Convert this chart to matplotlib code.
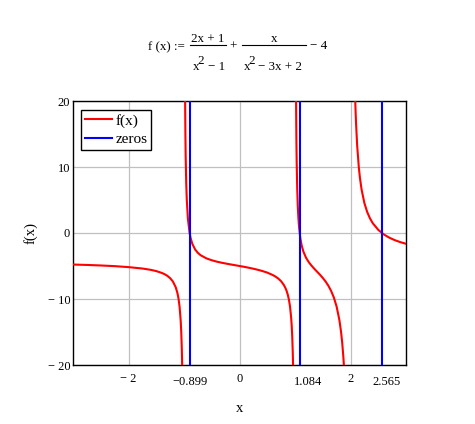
"""f(x) = (2x+1)/(x^2-1) + x/(x^2-3x+2) - 4 with its three zeros, Mathcad style."""
import matplotlib
matplotlib.use("Agg")
import matplotlib.pyplot as plt
from matplotlib.lines import Line2D

# f(x), one branch per interval between the poles (-1, 1, 2)
x_a = [-3.0, -2.75, -2.5, -2.25, -2.0, -1.75, -1.6, -1.5, -1.4, -1.35, -1.3, -1.25,
       -1.2, -1.15, -1.12, -1.1, -1.08, -1.06, -1.05, -1.04, -1.035, -1.03]
y_a = [-4.78, -4.84, -4.92, -5.02, -5.17, -5.38, -5.58, -5.77, -6.05, -6.24, -6.49, -6.84,
       -7.35, -8.20, -9.04, -9.88, -11.14, -13.23, -14.90, -17.40, -19.19, -21.57]
x_b = [-0.985, -0.98, -0.975, -0.97, -0.96, -0.95, -0.93, -0.9, -0.88, -0.85, -0.8, -0.75,
       -0.7, -0.6, -0.5, -0.4, -0.3, -0.2, -0.1, 0.0, 0.1, 0.2, 0.3, 0.4, 0.5, 0.6, 0.65,
       0.7, 0.75, 0.8, 0.83, 0.85, 0.87, 0.89, 0.91, 0.93, 0.94, 0.95, 0.96, 0.965, 0.97]
y_b = [28.41, 20.08, 15.07, 11.74, 7.57, 5.07, 2.20, 0.05, -0.79, -1.64, -2.49, -3.01,
       -3.37, -3.83, -4.13, -4.36, -4.54, -4.70, -4.85, -5.0, -5.15, -5.32, -5.51, -5.73,
       -6.0, -6.37, -6.61, -6.91, -7.31, -7.89, -8.38, -8.80, -9.35, -10.08, -11.13,
       -12.75, -13.96, -15.65, -18.17, -19.96, -22.35]
x_c = [1.015, 1.02, 1.025, 1.03, 1.04, 1.05, 1.06, 1.07, 1.09, 1.1, 1.12, 1.15, 1.2, 1.25,
       1.3, 1.35, 1.4, 1.45, 1.5, 1.55, 1.6, 1.65, 1.7, 1.75, 1.8, 1.83, 1.85, 1.87, 1.88, 1.89]
y_c = [27.55, 19.21, 14.20, 10.85, 6.66, 4.14, 2.45, 1.23, -0.40, -0.98, -1.87, -2.79,
       -3.77, -4.44, -4.97, -5.44, -5.88, -6.32, -6.80, -7.34, -7.97, -8.76, -9.77,
       -11.15, -13.20, -14.99, -16.57, -18.64, -19.93, -21.45]
x_d = [2.07, 2.08, 2.09, 2.1, 2.12, 2.15, 2.17, 2.2, 2.25, 2.3, 2.35, 2.4, 2.5, 2.6, 2.7,
       2.8, 2.9, 3.0]
y_d = [25.20, 21.63, 18.84, 16.62, 13.27, 9.93, 8.35, 6.57, 4.55, 3.20, 2.23, 1.50, 0.48,
       -0.22, -0.71, -1.09, -1.39, -1.63]

zeros = [-0.899, 1.084, 2.565]
zero_labels = ["\u22120.899", "1.084", "2.565"]
zero_label_dx = [0, 8, 5]          # px nudges, Mathcad places these a bit off-centre

x_ticks = [-2, 0, 2]
x_tick_labels = ["\u2212 2", "0", "2"]
y_ticks = [-20, -10, 0, 10, 20]
y_tick_labels = ["\u2212 20", "\u2212 10", "0", "10", "20"]

plt.rcParams.update({"font.family": "Liberation Serif"})

W, H = 475, 424
fig = plt.figure(figsize=(W / 100, H / 100), dpi=100)
ax = fig.add_axes([73 / W, 1 - 365 / H, 333 / W, 264 / H])


def ftext(px, py, s, **kw):
    kw.setdefault("fontsize", 9.4)
    fig.text(px / W, 1 - py / H, s, **kw)


def fbar(x0, x1, py):
    fig.add_artist(Line2D([x0 / W, x1 / W], [1 - py / H] * 2, transform=fig.transFigure,
                          color="black", lw=0.8))


# formula header
ftext(148, 50, "f (x) :=", ha="left", va="baseline")
ftext(208, 42, "2x + 1", ha="center", va="baseline")
fbar(190, 226, 45)
ftext(192.5, 70, "x", ha="left", va="baseline")
ftext(197.5, 64, "2", ha="left", va="baseline")
ftext(207.5, 70, "\u2212 1", ha="left", va="baseline")
ftext(233.5, 50, "+", ha="center", va="baseline")
ftext(274.5, 42, "x", ha="center", va="baseline")
fbar(242, 306, 45)
ftext(243.5, 70, "x", ha="left", va="baseline")
ftext(248.5, 64, "2", ha="left", va="baseline")
ftext(258, 70, "\u2212 3x + 2", ha="left", va="baseline")
ftext(310.5, 49, "\u2212 4", ha="left", va="baseline")

red = "#ff0000"
blue = "#0000ff"
ax.plot(x_a, y_a, color=red, lw=1.5, label="f(x)", zorder=3)
ax.plot(x_b, y_b, color=red, lw=1.5, zorder=3)
ax.plot(x_c, y_c, color=red, lw=1.5, zorder=3)
ax.plot(x_d, y_d, color=red, lw=1.5, zorder=3)
for i, z in enumerate(zeros):
    ax.axvline(z, color=blue, lw=1.5, label="zeros" if i == 0 else None, zorder=4)

ax.set_xlim(-3, 3)
ax.set_ylim(-20, 20)
ax.set_xticks(x_ticks, labels=x_tick_labels)
ax.set_yticks(y_ticks, labels=y_tick_labels)
ax.tick_params(length=0, labelsize=9, colors="black")
ax.tick_params(axis="x", pad=6)
ax.tick_params(axis="y", pad=2)
ax.grid(True, color="#c0c0c0", lw=0.9)
ax.set_axisbelow(True)
for sp in ax.spines.values():
    sp.set_color("black")
    sp.set_linewidth(1.0)

for z, s, dx in zip(zeros, zero_labels, zero_label_dx):
    ax.annotate(s, xy=(z, 0), xycoords=("data", "axes fraction"), xytext=(dx * 0.72, -8),
                textcoords="offset points", ha="center", va="top", fontsize=9)

ax.set_xlabel("x", fontsize=10.5, labelpad=12)
ax.set_ylabel("f(x)", fontsize=10.5, labelpad=7)

leg = ax.legend(loc="upper left", bbox_to_anchor=(8 / 333, 1 - 9 / 264), borderaxespad=0,
                fontsize=11, handlelength=1.75, handletextpad=0.25, labelspacing=0.3,
                borderpad=0.25, fancybox=False, framealpha=1, edgecolor="black")
leg.get_frame().set_linewidth(1.0)

fig.savefig("out.png", dpi=100)
